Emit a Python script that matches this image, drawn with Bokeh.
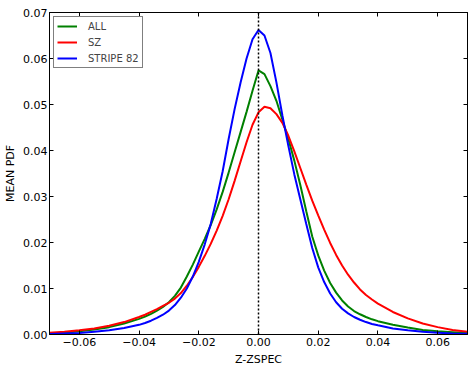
from bokeh.plotting import figure
from bokeh.models import Range1d, FixedTicker, LinearAxis, Span, Legend, LegendItem
from bokeh.embed import file_html
from bokeh.resources import INLINE

# ---- data ----
x_vals = [-0.07, -0.065, -0.06, -0.055, -0.05, -0.045,
          -0.040, -0.038, -0.036, -0.034, -0.032, -0.030, -0.028, -0.026, -0.024, -0.022,
          -0.020, -0.018, -0.016, -0.014, -0.012, -0.010, -0.008, -0.006, -0.004, -0.002,
          0.000, 0.002, 0.004, 0.006, 0.008, 0.010, 0.012, 0.014, 0.016, 0.018,
          0.020, 0.022, 0.024, 0.026, 0.028, 0.030, 0.032, 0.034, 0.036, 0.038, 0.040,
          0.045, 0.05, 0.055, 0.06, 0.065, 0.07]

all_vals = [0.0002, 0.0004, 0.0007, 0.0011, 0.0016, 0.0024,
            0.0034, 0.0039, 0.0045, 0.0052, 0.0060, 0.0070, 0.0084, 0.0102, 0.0126, 0.0152,
            0.0180, 0.0208, 0.0238, 0.0272, 0.0310, 0.0352, 0.0396, 0.0440, 0.0484, 0.0530,
            0.0574, 0.0566, 0.0540, 0.0508, 0.0467, 0.0425, 0.0378, 0.0325, 0.0268, 0.0213,
            0.0172, 0.0139, 0.0112, 0.0091, 0.0074, 0.0061, 0.0051, 0.0044, 0.0038, 0.0033, 0.0029,
            0.0021, 0.0015, 0.0010, 0.0007, 0.0005, 0.0003]

sz_vals = [0.0004, 0.0006, 0.0009, 0.0013, 0.0019, 0.0027,
           0.0038, 0.0043, 0.0049, 0.0055, 0.0062, 0.0069, 0.0078, 0.0090, 0.0106, 0.0125,
           0.0147, 0.0171, 0.0197, 0.0226, 0.0258, 0.0294, 0.0334, 0.0376, 0.0418, 0.0456,
           0.0483, 0.0495, 0.0492, 0.0479, 0.0460, 0.0432, 0.0398, 0.0362, 0.0326, 0.0291,
           0.0259, 0.0228, 0.0199, 0.0173, 0.0150, 0.0130, 0.0113, 0.0098, 0.0086, 0.0076, 0.0067,
           0.0049, 0.0035, 0.0024, 0.0016, 0.0010, 0.0006]

s82_vals = [0.0001, 0.0002, 0.0003, 0.0006, 0.0009, 0.0014,
            0.0021, 0.0025, 0.0030, 0.0036, 0.0043, 0.0052, 0.0064, 0.0080, 0.0100, 0.0126,
            0.0158, 0.0196, 0.0240, 0.0295, 0.0355, 0.0425, 0.0490, 0.0548, 0.0600, 0.0642,
            0.0662, 0.0650, 0.0612, 0.0548, 0.0476, 0.0410, 0.0348, 0.0294, 0.0240, 0.0188,
            0.0146, 0.0114, 0.0089, 0.0070, 0.0056, 0.0046, 0.0038, 0.0032, 0.0027, 0.0023, 0.0020,
            0.0013, 0.0009, 0.0006, 0.0004, 0.0002, 0.00015]

series_names = ["ALL", "SZ", "STRIPE 82"]
series_colors = ["#008000", "#ff0000", "#0000ff"]

x_ticks = [-0.06, -0.04, -0.02, 0.0, 0.02, 0.04, 0.06]
x_tick_labels = ["\u22120.06", "\u22120.04", "\u22120.02", "0.00", "0.02", "0.04", "0.06"]
y_ticks = [0.0, 0.01, 0.02, 0.03, 0.04, 0.05, 0.06, 0.07]
y_tick_labels = ["0.00", "0.01", "0.02", "0.03", "0.04", "0.05", "0.06", "0.07"]

FONT = "DejaVu Sans"

p = figure(width=472, height=370, output_backend="svg", toolbar_location=None,
           x_range=Range1d(-0.07, 0.07), y_range=Range1d(0, 0.07),
           min_border_left=49, min_border_top=12, min_border_right=5, min_border_bottom=36,
           x_axis_label="Z-ZSPEC", y_axis_label="MEAN PDF")
p.grid.visible = False
p.outline_line_color = "black"
p.outline_line_width = 1
p.background_fill_color = "white"
p.border_fill_color = "white"

def style_axis(ax, ticks, labels, show_labels=True):
    ax.ticker = FixedTicker(ticks=ticks)
    ax.major_tick_in = 4
    ax.major_tick_out = 0
    ax.minor_tick_line_color = None
    ax.axis_line_color = "black"
    ax.major_tick_line_color = "black"
    ax.axis_label_text_font = FONT
    ax.axis_label_text_font_style = "normal"
    ax.axis_label_text_font_size = "11px"
    ax.axis_label_text_color = "black"
    ax.major_label_text_font = FONT
    if show_labels:
        ax.major_label_overrides = {t: l for t, l in zip(ticks, labels)}
        ax.major_label_text_font_size = "11px"
        ax.major_label_text_color = "black"
    else:
        ax.major_label_text_color = None
        ax.major_label_text_font_size = "1px"
        ax.major_label_standoff = 0

style_axis(p.xaxis[0], x_ticks, x_tick_labels)
p.xaxis[0].major_label_standoff = 3
p.xaxis[0].axis_label_standoff = 4
style_axis(p.yaxis[0], y_ticks, y_tick_labels)
p.yaxis[0].major_label_standoff = 2
p.yaxis[0].axis_label_standoff = 3

top_ax = LinearAxis()
style_axis(top_ax, x_ticks, x_tick_labels, show_labels=False)
p.add_layout(top_ax, "above")
right_ax = LinearAxis()
style_axis(right_ax, y_ticks, y_tick_labels, show_labels=False)
p.add_layout(right_ax, "right")

renderers = []
for ys, name, col in zip([all_vals, sz_vals, s82_vals], series_names, series_colors):
    r = p.line(x_vals, ys, line_color=col, line_width=2)
    renderers.append(r)

p.add_layout(Span(location=0, dimension="height", line_color="black",
                  line_width=1.5, line_dash="2 2"))

legend = Legend(items=[LegendItem(label=n, renderers=[r]) for n, r in zip(series_names, renderers)],
                location="top_left")
legend.margin = 4
legend.padding = 3
legend.spacing = 4
legend.label_height = 12
legend.glyph_height = 12
legend.glyph_width = 20
legend.label_standoff = 11
legend.label_text_font = FONT
legend.label_text_font_size = "10px"
legend.border_line_color = "black"
legend.border_line_width = 1
legend.background_fill_alpha = 1
p.add_layout(legend)

open("out.html", "w").write(file_html(p, INLINE))
